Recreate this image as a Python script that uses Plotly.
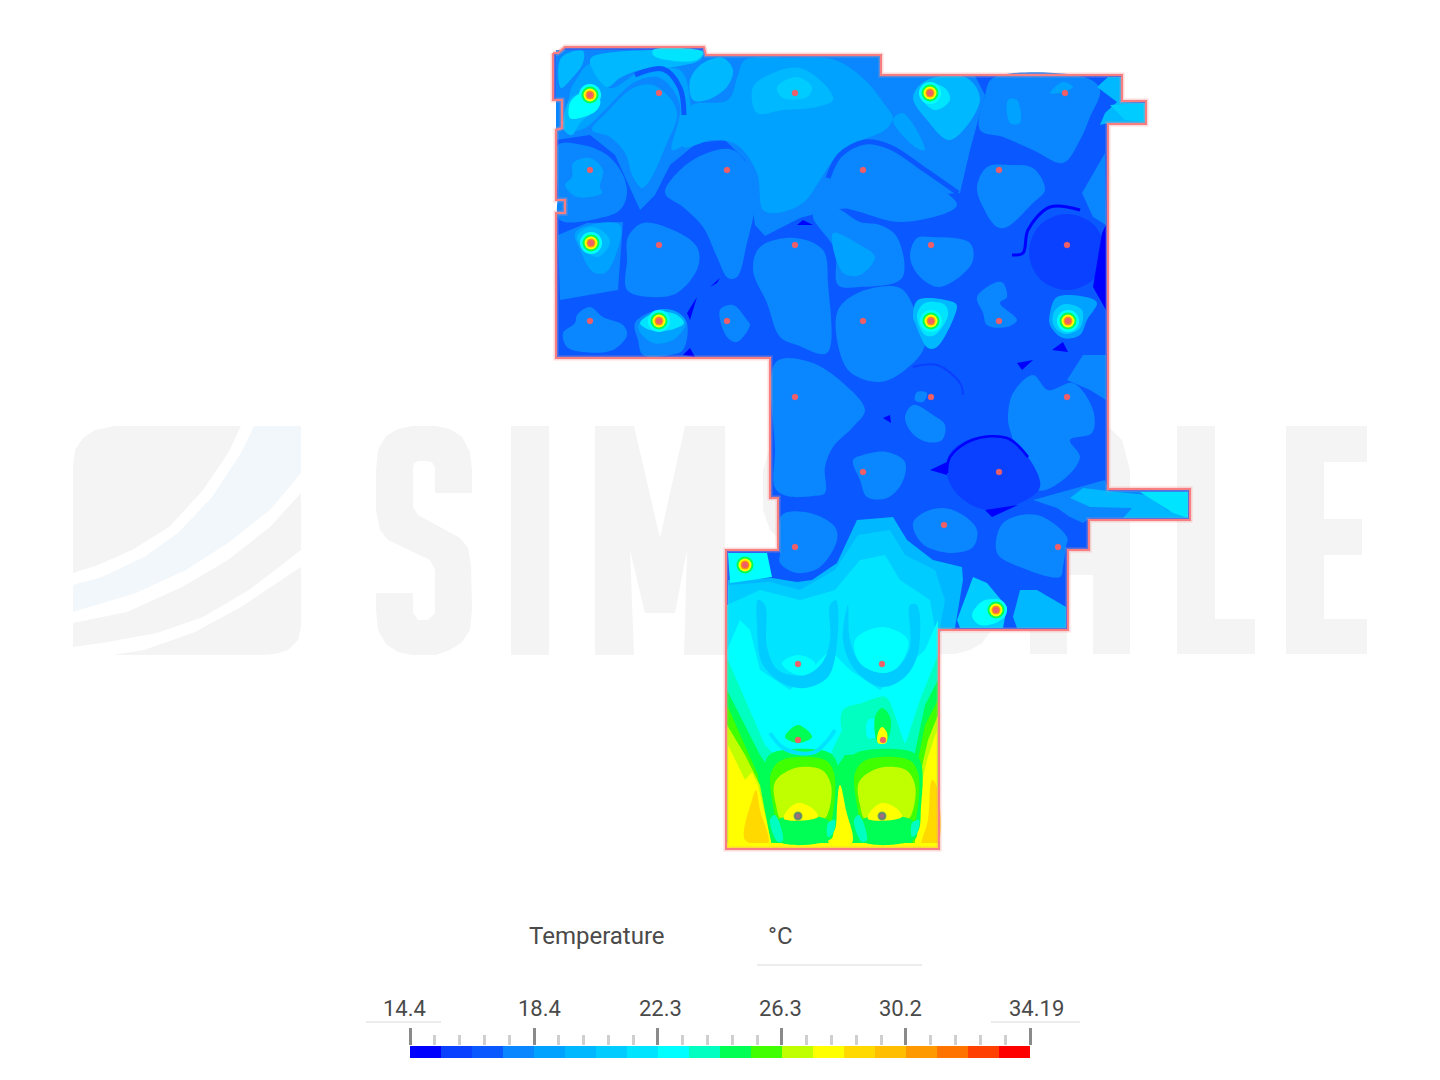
import plotly.graph_objects as go

# colour bands of the temperature legend, low to high
band_colors = ['#0000ff', '#0a40ff', '#0a58ff', '#0a86ff', '#00a2ff', '#00b8ff', '#00ccff', '#00e4ff', '#00ffff',
               '#00ffc0', '#00ff55', '#40ff00', '#c0ff00', '#ffff00', '#ffd900', '#ffbf00', '#ff9900', '#ff7300',
               '#ff4000', '#ff0000']
temp_min = 14.4
temp_max = 34.19
tick_labels = ['14.4', '18.4', '22.3', '26.3', '30.2', '34.19']
major_ticks = [14.4, 18.36, 22.31, 26.27, 30.23, 34.19]
minor_ticks = [15.19, 15.98, 16.78, 17.57, 19.15, 19.94, 20.73, 21.52, 23.1, 23.9, 24.69, 25.48,
               27.06, 27.85, 28.64, 29.44, 31.02, 31.81, 32.6, 33.4]

# floor plan outline
outline = [(553, 53), (558, 53), (565, 47), (704, 47), (706, 55), (881, 55), (881, 75), (1122, 75), (1122, 101),
           (1146, 101), (1146, 124), (1108, 124), (1108, 489), (1190, 489), (1190, 520), (1089, 520), (1089, 550),
           (1068, 550), (1068, 630), (939, 630), (939, 849), (726, 849), (726, 550), (778, 550), (778, 498),
           (770, 498), (770, 358), (556, 358), (556, 213), (565, 213), (565, 200), (556, 200), (556, 130),
           (562, 128), (562, 100), (553, 100), (553, 53)]

# contour regions, (x, y) in plan units
upper_mid = [(556, 50), (705, 50), (706, 56), (880, 56), (881, 76), (975, 76), (985, 95), (970, 150), (960, 193),
             (930, 195), (880, 205), (830, 210), (800, 218), (765, 236), (755, 225), (745, 160), (725, 140),
             (697, 143), (670, 165), (655, 195), (640, 210), (615, 155), (590, 135), (556, 140)]
upper_light = [(683, 147), (713, 140), (737, 145), (757, 173), (763, 210), (777, 213), (803, 203), (820, 180),
               (833, 160), (850, 145), (870, 137), (885, 130), (893, 118), (885, 105), (865, 80), (835, 60),
               (790, 58), (745, 60), (738, 75), (728, 100), (692, 105), (686, 120)]
left_light = [(570, 92), (576, 80), (590, 64), (610, 88), (640, 72), (680, 70), (690, 100), (688, 140), (672, 150), (680, 105),
              (660, 78), (635, 82), (605, 110), (585, 128), (570, 130)]
cell_a = [(592, 130), (607, 112), (633, 88), (653, 85), (673, 102), (677, 117), (667, 143), (650, 180), (642, 188),
          (633, 177), (625, 153), (610, 137)]
top_band = [(592, 57), (653, 50), (703, 53), (700, 60), (673, 67), (640, 70), (620, 78), (607, 87), (590, 63)]
top_tip = [(653, 50), (703, 52), (697, 60), (667, 60), (653, 55)]
top_corner = [(561, 58), (583, 51), (583, 63), (573, 77), (561, 88)]
top_blob = [(690, 80), (703, 63), (723, 58), (733, 70), (727, 87), (707, 100), (693, 100)]
mid_ring = [(753, 87), (773, 73), (800, 68), (827, 87), (833, 100), (817, 107), (783, 110), (757, 113)]
mid_core = [(777, 87), (797, 77), (812, 87), (807, 97), (783, 98)]
strip_b = [(893, 120), (903, 113), (925, 150), (915, 147)]
wedge_low = [(568, 102), (578, 93), (590, 90), (600, 102), (598, 108), (580, 123), (572, 135), (564, 130)]
wedge_high = [(570, 103), (580, 94), (600, 100), (597, 110), (580, 118), (570, 118)]
hot_b_cell = [(913, 97), (927, 80), (967, 78), (980, 100), (950, 140), (927, 120)]
hot_b_in = [(920, 95), (930, 84), (945, 88), (950, 100), (935, 110)]
cell_c = [(558, 145), (583, 145), (607, 155), (622, 173), (627, 193), (620, 210), (600, 218), (560, 220), (558, 190)]
cell_c_in = [(573, 163), (590, 158), (603, 170), (600, 187), (602, 193), (577, 197), (565, 185), (572, 177)]
cell_d = [(665, 193), (680, 170), (707, 153), (733, 150), (750, 170), (755, 203), (747, 243), (737, 277), (728, 278),
          (717, 257), (703, 227), (683, 207)]
cell_e = [(558, 235), (587, 223), (623, 222), (618, 290), (560, 300)]
cell_e_l = [(575, 233), (590, 225), (620, 225), (615, 257), (605, 273), (593, 272), (580, 250)]
cell_e_m = [(577, 237), (590, 227), (605, 233), (610, 243), (598, 257), (587, 252)]
cell_f = [(628, 237), (643, 223), (673, 230), (697, 247), (698, 267), (677, 293), (650, 297), (627, 290), (627, 260)]
cell_g = [(563, 333), (575, 323), (577, 315), (590, 307), (603, 317), (623, 325), (627, 335), (613, 350), (583, 352),
          (567, 347)]
cell_h = [(635, 323), (657, 310), (677, 312), (687, 323), (683, 350), (670, 355), (643, 355), (638, 340)]
cell_h_l = [(638, 327), (657, 310), (677, 312), (686, 323), (673, 340), (653, 343)]
cell_h_c = [(640, 323), (657, 312), (675, 314), (684, 323), (670, 330), (650, 330)]
cell_i = [(720, 310), (733, 305), (747, 320), (750, 325), (737, 342), (727, 337)]
cell_j = [(753, 270), (760, 247), (795, 238), (823, 250), (828, 283), (827, 353), (797, 345), (780, 337), (767, 303)]
wedge_k = [(813, 215), (833, 207), (860, 222), (880, 225), (897, 237), (902, 278), (860, 287), (838, 285), (835, 250)]
wedge_k_l = [(833, 233), (860, 245), (875, 257), (860, 275), (843, 273)]
cell_l = [(830, 190), (840, 163), (860, 153), (880, 152), (903, 167), (957, 205), (903, 222), (860, 212), (840, 205)]
cell_m = [(910, 257), (917, 238), (932, 237), (970, 243), (972, 263), (940, 287), (920, 277)]
cell_n = [(977, 187), (987, 167), (1010, 165), (1033, 168), (1045, 190), (1033, 203), (1007, 227), (997, 227), (983, 207)]
cell_o = [(993, 78), (1087, 78), (1100, 90), (1090, 117), (1080, 140), (1063, 163), (1033, 150), (1003, 137), (980, 130),
          (985, 95)]
cell_o_a = [(1050, 93), (1063, 82), (1073, 87), (1060, 93)]
cell_o_b = [(1008, 100), (1017, 100), (1020, 123), (1010, 123)]
wall_p = [(1082, 193), (1105, 153), (1106, 225), (1093, 217)]
corner_q = [(1097, 87), (1108, 77), (1121, 77), (1121, 102), (1145, 103), (1145, 123), (1108, 123), (1100, 125), (1105, 113),
            (1117, 102)]
corner_q_in = [(1110, 105), (1145, 103), (1145, 122), (1125, 120)]
circle_r = [(1067, 214), (1094, 225), (1105, 252), (1094, 279), (1067, 290), (1040, 279), (1029, 252), (1040, 225)]
arc_r = [(1012, 255), (1023, 253), (1028, 230), (1050, 207), (1080, 210)]
wall_dark = [(1102, 233), (1106, 225), (1106, 310), (1093, 287)]
cell_s = [(1050, 313), (1057, 297), (1090, 298), (1097, 303), (1087, 320), (1080, 335), (1063, 338), (1050, 325)]
cell_s_in = [(1054, 312), (1065, 304), (1082, 310), (1080, 328), (1065, 334), (1054, 326)]
cell_t = [(913, 317), (918, 300), (955, 303), (957, 307), (937, 347), (928, 348), (915, 323)]
cell_t_in = [(917, 315), (925, 303), (945, 305), (948, 315), (935, 335), (925, 335)]
cell_u = [(838, 310), (860, 292), (900, 288), (915, 310), (925, 345), (905, 370), (880, 382), (850, 372), (838, 345)]
cell_v = [(977, 297), (997, 282), (1003, 283), (1007, 297), (1000, 303), (1017, 320), (1007, 327), (987, 325), (983, 313)]
cell_w = [(1008, 417), (1013, 393), (1033, 375), (1048, 390), (1073, 383), (1093, 410), (1092, 433), (1070, 440),
          (1080, 457), (1063, 480), (1037, 490), (1010, 430)]
wall_x = [(1083, 355), (1106, 355), (1106, 400), (1090, 390), (1067, 380)]
cell_y = [(776, 362), (810, 362), (843, 383), (865, 410), (853, 427), (833, 447), (825, 467), (825, 493), (813, 496),
          (787, 496), (775, 488), (775, 450)]
cell_z = [(853, 460), (863, 455), (887, 452), (905, 462), (902, 483), (887, 498), (867, 497), (860, 480)]
cell_aa = [(905, 417), (913, 405), (933, 415), (945, 425), (942, 440), (927, 442), (912, 433)]
cell_ab = [(917, 392), (927, 393), (923, 402), (915, 400)]
cell_ac = [(950, 453), (973, 438), (1007, 438), (1028, 457), (1040, 487), (1020, 503), (987, 510), (960, 497), (947, 475)]
cell_ad = [(913, 523), (923, 513), (943, 508), (963, 515), (977, 530), (973, 547), (953, 553), (927, 547), (917, 537)]
cell_ae = [(1003, 523), (1037, 515), (1067, 537), (1066, 547), (1063, 567), (1060, 577), (1020, 567), (997, 553)]
cell_af = [(782, 515), (810, 513), (835, 527), (837, 540), (820, 567), (797, 573), (780, 563), (780, 553)]
stub_mid = [(1033, 500), (1105, 480), (1109, 491), (1188, 491), (1188, 518), (1090, 518), (1083, 523), (1070, 517), (1057, 508)]
stub_light = [(1070, 498), (1083, 488), (1108, 491), (1147, 495), (1167, 510), (1188, 518), (1123, 518), (1132, 508), (1090, 507)]
stub_tip = [(1140, 492), (1188, 492), (1188, 518), (1173, 513)]

# small dark pockets
pocket_a = [(930, 470), (947, 462), (947, 475)]
pocket_b = [(883, 418), (890, 415), (891, 423)]
pocket_c = [(985, 510), (1018, 505), (992, 517)]
pocket_d = [(1017, 363), (1033, 360), (1022, 370)]
pocket_e = [(1052, 350), (1063, 342), (1068, 352)]
pocket_f = [(803, 220), (813, 225), (797, 225)]
pocket_g = [(687, 313), (697, 297), (690, 320)]
pocket_h = [(683, 355), (690, 348), (695, 357)]
pocket_i = [(710, 287), (720, 278), (717, 283)]

# lower room bands
room_top = [(728, 580), (772, 578), (797, 582), (812, 580), (837, 563), (857, 520), (893, 517), (907, 540), (933, 560),
            (962, 567), (963, 580), (955, 628), (938, 632), (938, 848), (727, 848)]
room_b6 = [(728, 585), (770, 582), (800, 590), (835, 570), (858, 535), (890, 530), (905, 555), (935, 570), (945, 600),
           (938, 640), (938, 848), (727, 848)]
room_b7 = [(727, 605), (760, 590), (800, 600), (835, 590), (860, 560), (885, 555), (900, 580), (930, 600), (937, 640),
           (938, 848), (727, 848)]
room_b8 = [(727, 650), (740, 620), (750, 630), (760, 670), (790, 690), (830, 650), (850, 670), (880, 690), (925, 650),
           (938, 620), (938, 848), (727, 848)]
arc_left = [(758, 600), (757, 625), (762, 663), (782, 683), (805, 688), (828, 677), (837, 643), (836, 600), (830, 605),
            (830, 640), (822, 663), (805, 675), (778, 670), (767, 647), (765, 605)]
arc_right = [(843, 640), (855, 670), (882, 687), (905, 677), (918, 653), (917, 605), (910, 605), (910, 647), (898, 667),
             (882, 673), (860, 663), (850, 640), (848, 605)]
tip_left = [(782, 663), (798, 655), (815, 663), (805, 675), (792, 673)]
tip_right = [(855, 640), (882, 627), (908, 640), (898, 667), (882, 673), (860, 663)]
nook_left = [(728, 553), (767, 553), (772, 577), (753, 580), (730, 583)]
nook_hot = [(957, 620), (973, 577), (987, 583), (1007, 607), (1003, 628), (960, 628)]
nook_hot_in = [(972, 615), (985, 600), (1002, 603), (1000, 620), (980, 625)]
nook_right = [(1013, 617), (1020, 590), (1037, 590), (1066, 607), (1066, 628), (1017, 628)]
side_b9 = [(727, 658), (745, 700), (765, 745), (775, 755), (830, 755), (842, 730), (843, 710), (885, 697), (893, 710), (905, 745),
           (920, 700), (938, 655), (938, 848), (727, 848)]
side_b10 = [(727, 690), (745, 725), (760, 755), (770, 770), (835, 770), (845, 755), (915, 752), (925, 705), (938, 680),
            (938, 848), (727, 848)]
side_b11 = [(727, 705), (745, 745), (758, 775), (765, 848), (727, 848)]
side_b12 = [(727, 725), (745, 755), (760, 785), (772, 848), (727, 848)]
side_yellow = [(728, 745), (738, 765), (745, 780), (752, 772), (758, 785), (765, 815), (772, 846), (728, 847)]
side_gold = [(745, 840), (752, 800), (756, 790), (760, 810), (768, 843)]
right_b11 = [(938, 700), (925, 725), (918, 760), (912, 848), (938, 848)]
right_b12 = [(938, 715), (928, 740), (920, 775), (915, 848), (938, 848)]
right_yellow = [(937, 730), (927, 760), (920, 790), (918, 825), (914, 846), (937, 847)]
right_gold = [(932, 780), (937, 787), (937, 847), (922, 847), (928, 820)]
center_yellow = [(840, 785), (846, 810), (852, 843), (829, 843), (835, 810)]
floor_yellow = [(727, 843), (938, 843), (938, 848), (727, 848)]
dome_left = [(785, 737), (798, 725), (812, 737), (798, 743)]
arc_dome = [(770, 733), (782, 747), (798, 753), (815, 752), (828, 740), (835, 730)]
dome_right = [(843, 710), (862, 703), (885, 697), (893, 710), (895, 733), (905, 743), (915, 753), (855, 750), (842, 730)]
dome_hole = [(868, 720), (878, 720), (880, 735), (868, 738)]
flame_green = [(875, 717), (882, 708), (890, 717), (890, 733), (885, 743), (878, 743)]
flame_yellow = [(878, 733), (882, 727), (887, 733), (886, 743), (878, 743)]
block_l10 = [(765, 763), (772, 753), (828, 752), (837, 763), (837, 807), (833, 833), (815, 838), (782, 843), (772, 827), (767, 800)]
block_l11 = [(771, 773), (782, 760), (825, 760), (834, 773), (833, 813), (828, 827), (780, 827), (773, 805)]
block_l12 = [(775, 782), (795, 768), (822, 770), (831, 785), (829, 810), (823, 820), (782, 820), (776, 805)]
block_l13 = [(786, 812), (798, 803), (812, 808), (818, 817), (784, 819)]
block_l_foot = [(778, 820), (828, 820), (832, 838), (782, 842)]
block_l_tip_a = [(770, 820), (775, 815), (783, 840), (778, 842)]
block_l_tip_b = [(828, 823), (835, 820), (833, 833), (828, 837)]
block_r10 = [(849, 763), (856, 753), (912, 752), (921, 763), (921, 807), (917, 833), (899, 838), (866, 843), (856, 827), (851, 800)]
block_r11 = [(855, 773), (866, 760), (909, 760), (918, 773), (917, 813), (912, 827), (864, 827), (857, 805)]
block_r12 = [(859, 782), (879, 768), (906, 770), (915, 785), (913, 810), (907, 820), (866, 820), (860, 805)]
block_r13 = [(870, 812), (882, 803), (896, 808), (902, 817), (868, 819)]
block_r_foot = [(862, 820), (912, 820), (916, 838), (866, 842)]
block_r_tip_a = [(854, 820), (859, 815), (867, 840), (862, 842)]
block_r_tip_b = [(912, 823), (919, 820), (917, 833), (912, 837)]

# (band, region, smooth)
regions = [
    (3, upper_mid, False), (4, upper_light, True), (4, left_light, True), (5, top_band, True), (7, top_tip, True),
    (5, top_corner, True), (5, top_blob, True), (4, cell_a, True), (5, mid_ring, True), (6, mid_core, True), (4, strip_b, True),
    (5, hot_b_cell, True), (7, hot_b_in, True), (5, wedge_low, True), (8, wedge_high, True), (3, cell_c, True),
    (4, cell_c_in, True), (3, cell_d, True), (3, cell_e, False), (4, cell_e_l, True), (5, cell_e_m, True), (3, cell_f, True),
    (3, cell_g, True), (3, cell_h, True), (4, cell_h_l, True), (7, cell_h_c, True), (3, cell_i, True), (3, cell_j, True),
    (3, wedge_k, True), (4, wedge_k_l, True), (3, cell_l, True), (3, cell_m, True), (3, cell_n, True), (3, cell_o, True),
    (4, cell_o_a, True), (4, cell_o_b, True), (3, wall_p, False), (5, corner_q, False), (6, corner_q_in, False),
    (1, circle_r, True), (0, wall_dark, False), (4, cell_s, True), (6, cell_s_in, True), (3, cell_u, True), (5, cell_t, True),
    (7, cell_t_in, True), (3, cell_v, True), (3, cell_w, True), (3, wall_x, False), (3, cell_y, True), (3, cell_z, True),
    (3, cell_aa, True), (3, cell_ab, True), (1, cell_ac, True), (3, cell_ad, True), (3, cell_ae, True), (3, cell_af, True),
    (3, stub_mid, False), (5, stub_light, False), (7, stub_tip, False), (0, pocket_a, False), (0, pocket_b, False),
    (0, pocket_c, False), (0, pocket_d, False), (0, pocket_e, False), (0, pocket_f, False), (0, pocket_g, False),
    (0, pocket_h, False), (0, pocket_i, False), (5, room_top, False), (6, room_b6, False), (7, room_b7, False),
    (8, room_b8, False), (6, arc_left, True), (6, arc_right, True), (8, tip_left, True), (8, tip_right, True),
    (8, nook_left, False), (6, nook_hot, False), (8, nook_hot_in, True), (5, nook_right, False), (9, side_b9, False),
    (10, side_b10, False), (11, side_b11, False), (12, side_b12, False), (13, side_yellow, False), (14, side_gold, True),
    (11, right_b11, False), (12, right_b12, False), (13, right_yellow, False), (14, right_gold, True), (13, center_yellow, True),
    (13, floor_yellow, False), (10, dome_left, True), (9, dome_right, True), (8, dome_hole, True), (10, flame_green, True),
    (13, flame_yellow, True), (10, block_l10, True), (11, block_l11, True), (12, block_l12, True), (10, block_l_foot, True),
    (13, block_l13, True), (9, block_l_tip_a, True), (9, block_l_tip_b, True), (10, block_r10, True), (11, block_r11, True),
    (12, block_r12, True), (10, block_r_foot, True), (13, block_r13, True), (9, block_r_tip_a, True), (9, block_r_tip_b, True),
]

# channels drawn as lines: (points, band, width)
arc_a = [(635, 75), (663, 69), (680, 88), (684, 115)]
arc_b = [(828, 178), (840, 155), (865, 142), (890, 147), (925, 170), (958, 193)]
arc_c = [(947, 473), (950, 457), (972, 440), (1007, 438), (1028, 457)]
arc_d = [(913, 367), (937, 365), (960, 383), (963, 395)]
channels = [(arc_a, 2, 5), (arc_b, 2, 5), (arc_r, 0, 3), (arc_c, 0, 2.5), (arc_d, 1, 2), (arc_dome, 7, 4)]

# sensor points and heat sources
sensor_x = [659, 795, 1065, 590, 727, 863, 999, 659, 795, 931, 1067, 590, 727, 863, 999, 795, 931, 1067, 863, 999, 944, 795,
            1058, 798, 882, 798, 883]
sensor_y = [93, 93, 93, 170, 170, 170, 170, 245, 245, 245, 245, 321, 321, 321, 321, 397, 397, 397, 472, 472, 525, 547, 547,
            664, 664, 740, 740]
source_x = [590, 930, 591, 659, 931, 1068, 745, 996]
source_y = [95, 93, 243, 321, 321, 321, 565, 610]
gray_x = [798, 882]
gray_y = [816, 816]

# watermark logo
logo_a = [(73, 573), (73, 467), (75, 450), (83, 438), (95, 430), (115, 426), (241, 426), (228, 453), (203, 490), (169, 527),
          (132, 550), (98, 565)]
logo_b = [(73, 585), (102, 577), (144, 557), (178, 533), (212, 497), (241, 453), (254, 426), (301, 426), (301, 473), (270, 510),
          (228, 543), (186, 570), (136, 593), (73, 612)]
logo_c = [(73, 623), (127, 612), (182, 587), (228, 560), (270, 527), (301, 493), (301, 550), (249, 590), (203, 617), (157, 633),
          (102, 643), (73, 647)]
logo_d = [(113, 655), (144, 650), (195, 632), (241, 607), (301, 567), (301, 627), (298, 640), (288, 650), (275, 654), (262, 655)]
mark_s = [(376, 470), (378, 450), (386, 436), (398, 429), (412, 426), (436, 426), (450, 429), (462, 437), (470, 452), (472, 470),
          (472, 493), (435, 493), (435, 468), (432, 462), (426, 461), (418, 461), (414, 463), (413, 468), (413, 507), (418, 515),
          (460, 538), (468, 548), (471, 565), (472, 610), (470, 630), (462, 642), (450, 650), (436, 655), (412, 655), (398, 652),
          (386, 644), (378, 630), (376, 610), (376, 593), (413, 593), (413, 613), (418, 620), (428, 620), (435, 613), (435, 570),
          (430, 560), (388, 540), (380, 530), (376, 510)]
mark_i = [(511, 426), (549, 426), (549, 655), (511, 655)]
mark_m = [(595, 426), (634, 426), (660, 538), (685, 426), (725, 426), (725, 655), (684, 655), (687, 550), (675, 613), (645, 613),
          (630, 550), (634, 655), (595, 655)]
mark_s2 = [(763, 470), (772, 440), (800, 426), (800, 560), (770, 530), (763, 510)]
mark_c = [(935, 632), (990, 632), (982, 643), (970, 650), (955, 654), (935, 654)]
mark_a = [(1030, 654), (1067, 654), (1067, 575), (1093, 575), (1093, 654), (1130, 654), (1130, 470), (1122, 440), (1108, 426), (1030, 426)]
mark_l = [(1177, 426), (1215, 426), (1215, 619), (1255, 619), (1255, 654), (1177, 654)]
mark_e = [(1286, 426), (1367, 426), (1367, 462), (1324, 462), (1324, 519), (1362, 519), (1362, 555), (1324, 555), (1324, 619),
          (1367, 619), (1367, 654), (1286, 654)]
watermark_gray = [logo_a, logo_c, logo_d, mark_s, mark_i, mark_m, mark_s2, mark_c, mark_a, mark_l, mark_e]


def split(points):
    xs = [p[0] for p in points] + [points[0][0]]
    ys = [p[1] for p in points] + [points[0][1]]
    return xs, ys


def add_region(fig, points, color, smooth=False):
    xs, ys = split(points)
    fig.add_trace(go.Scatter(
        x=xs, y=ys, mode='lines', fill='toself', fillcolor=color,
        line={'width': 0, 'color': color, 'shape': 'spline' if smooth else 'linear', 'smoothing': 1},
        hoverinfo='skip',
    ))


fig = go.Figure()

for shape in watermark_gray:
    add_region(fig, shape, '#f4f4f4')
add_region(fig, logo_b, '#f2f7fb')

add_region(fig, outline, band_colors[2])
for band, points, smooth in regions:
    add_region(fig, points, band_colors[band], smooth)

for points, band, width in channels:
    xs = [p[0] for p in points]
    ys = [p[1] for p in points]
    fig.add_trace(go.Scatter(x=xs, y=ys, mode='lines', hoverinfo='skip',
                             line={'color': band_colors[band], 'width': width, 'shape': 'spline'}))

# heat sources, drawn from the outer ring in
for size, band in [(22, 8), (17, 10), (13, 13), (9, 16)]:
    fig.add_trace(go.Scatter(x=source_x, y=source_y, mode='markers', hoverinfo='skip',
                             marker={'size': size, 'color': band_colors[band], 'line': {'width': 0}}))
fig.add_trace(go.Scatter(x=source_x + sensor_x, y=source_y + sensor_y, mode='markers', hoverinfo='skip',
                         marker={'size': 6, 'color': '#ee5f68', 'line': {'width': 1, 'color': 'rgba(238,95,104,0.35)'}}))
fig.add_trace(go.Scatter(x=gray_x, y=gray_y, mode='markers', hoverinfo='skip',
                         marker={'size': 7, 'color': '#a0707a', 'line': {'width': 2, 'color': 'rgba(60,140,120,0.7)'}}))

# boundary
out_x, out_y = split(outline)
fig.add_trace(go.Scatter(x=out_x, y=out_y, mode='lines', hoverinfo='skip',
                         line={'color': 'rgba(250,150,150,0.35)', 'width': 5}))
fig.add_trace(go.Scatter(x=out_x, y=out_y, mode='lines', hoverinfo='skip', line={'color': '#f77f82', 'width': 2}))

# legend colour bar
step = (temp_max - temp_min) / len(band_colors)
band_mid = [temp_min + step * (i + 0.5) for i in range(len(band_colors))]
scale = []
for i, c in enumerate(band_colors):
    scale.append([i / len(band_colors), c])
    scale.append([(i + 1) / len(band_colors), c])
fig.add_trace(go.Heatmap(x=band_mid, y=[0], z=[list(range(len(band_colors)))], colorscale=scale, zmin=-0.5,
                         zmax=len(band_colors) - 0.5, showscale=False, hoverinfo='skip', xaxis='x2', yaxis='y2'))

# pale rules under the legend texts
for x0, x1, y0 in [(757, 922, 965), (366, 441, 1022), (991, 1080, 1022)]:
    fig.add_shape(type='line', x0=x0, x1=x1, y0=y0, y1=y0, line={'color': '#e6e6e6', 'width': 1.5})

text_font = {'family': 'Roboto', 'color': '#4a4a4a'}
fig.add_annotation(x=597, y=936, text='Temperature', showarrow=False, font={**text_font, 'size': 24})
fig.add_annotation(x=780, y=936, text='°C', showarrow=False, font={**text_font, 'size': 24})
for label, lx in zip(tick_labels, [404, 539, 660, 780, 900, 1036]):
    fig.add_annotation(x=lx, y=1008, text=label, showarrow=False, font={**text_font, 'size': 22})

fig.update_layout(
    width=1440, height=1080, margin={'l': 0, 'r': 0, 't': 0, 'b': 0}, showlegend=False,
    paper_bgcolor='white', plot_bgcolor='rgba(0,0,0,0)',
    xaxis={'range': [0, 1440], 'visible': False, 'domain': [0, 1]},
    yaxis={'range': [1080, 0], 'visible': False, 'domain': [0, 1]},
    xaxis2={'range': [temp_min, temp_max], 'domain': [410 / 1440, 1030 / 1440], 'anchor': 'y2', 'side': 'top',
            'tickmode': 'array', 'tickvals': major_ticks, 'ticktext': [''] * 6, 'ticks': 'outside', 'ticklen': 17,
            'tickwidth': 2.5, 'tickcolor': '#8a8a8a', 'showgrid': False, 'zeroline': False, 'showline': False,
            'minor': {'tickmode': 'array', 'tickvals': minor_ticks, 'ticks': 'outside', 'ticklen': 10, 'tickwidth': 3,
                      'tickcolor': '#cfcfcf', 'showgrid': False}},
    yaxis2={'domain': [22 / 1080, 34 / 1080], 'anchor': 'x2', 'visible': False, 'range': [-0.5, 0.5]},
)

fig.write_html('out.html', config={'displayModeBar': False}, post_script="document.body.style.margin='0';")
